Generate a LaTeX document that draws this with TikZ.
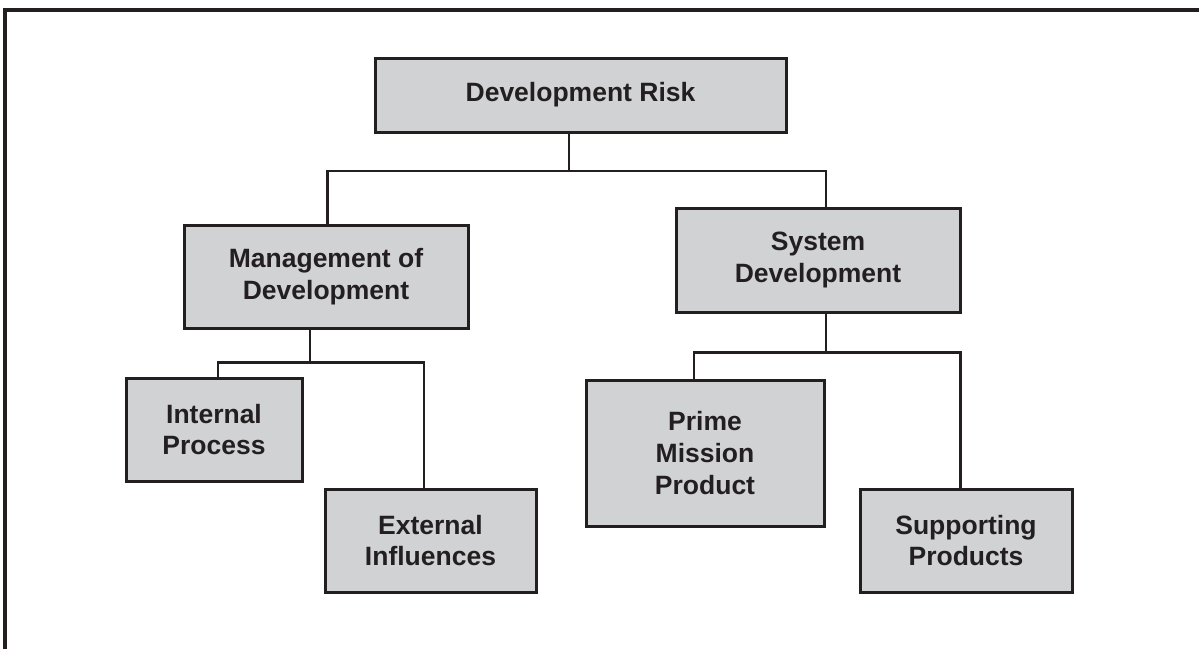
\documentclass[tikz,border=0pt]{standalone}
\usepackage{fontspec}
\setmainfont{Liberation Sans}
\definecolor{boxfill}{RGB}{209,210,212}
\definecolor{ink}{RGB}{35,31,32}
\begin{document}
\begin{tikzpicture}[x=1pt,y=-1pt,
  riskbox/.style={draw=ink, fill=boxfill, line width=3pt, inner sep=0pt,
    align=center, text=ink, font=\fontsize{26.5}{31.8}\selectfont\bfseries},
  conn/.style={draw=ink, line width=2.5pt},
  frame/.style={draw=ink, line width=3.3pt}]
\useasboundingbox (0,0) rectangle (1199,648);
% frame
\coordinate (fbl) at (5,660);
\coordinate (ftl) at (5,10);
\coordinate (ftr) at (1210,10);
\draw[frame] (fbl) -- (ftl) -- (ftr);
% boxes
\node[riskbox, minimum width=411pt, minimum height=74pt] (DR) at (580.5,95) {Development Risk};
\node[riskbox, minimum width=284pt, minimum height=103pt] (MoD) at (326,276.5) {Management of\\Development};
\node[riskbox, minimum width=284pt, minimum height=104pt] (SD) at (818,260) {System\\Development};
\node[riskbox, minimum width=176pt, minimum height=103pt] (IP) at (214,429.5) {Internal\\Process};
\node[riskbox, minimum width=211pt, minimum height=103pt] (EI) at (430.5,540.5) {External\\Influences};
\node[riskbox, minimum width=238pt, minimum height=146pt] (PMP) at (705,453) {Prime\\Mission\\Product};
\node[riskbox, minimum width=212pt, minimum height=103pt] (SP) at (966,540.5) {Supporting\\Products};
% bus coordinates
\coordinate (b1) at (569,171);
\coordinate (b1L) at (327.5,171);
\coordinate (b1R) at (826,171);
\coordinate (b2) at (310,362.5);
\coordinate (b2L) at (218,362.5);
\coordinate (b2R) at (424,362.5);
\coordinate (b3) at (826,352.5);
\coordinate (b3L) at (694,352.5);
\coordinate (b3R) at (960.5,352.5);
% connectors
\draw[conn] (DR.south -| b1) -- (b1);
\draw[conn] (MoD.north -| b1L) |- (b1R) -- (SD.north -| b1R);
\draw[conn] (MoD.south -| b2) -- (b2);
\draw[conn] (IP.north -| b2L) |- (b2R) -- (EI.north -| b2R);
\draw[conn] (SD.south -| b3) -- (b3);
\draw[conn] (PMP.north -| b3L) |- (b3R) -- (SP.north -| b3R);
\end{tikzpicture}
\end{document}
